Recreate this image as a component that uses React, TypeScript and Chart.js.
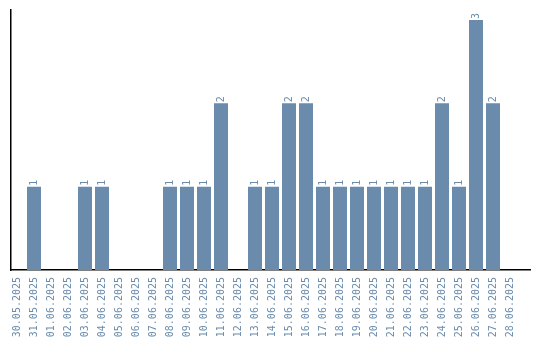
import React, { useEffect, useRef } from "react";
import { Chart, registerables } from "chart.js";

Chart.register(...registerables);

const categories: string[] = [
  "30.05.2025", "31.05.2025", "01.06.2025", "02.06.2025", "03.06.2025",
  "04.06.2025", "05.06.2025", "06.06.2025", "07.06.2025", "08.06.2025",
  "09.06.2025", "10.06.2025", "11.06.2025", "12.06.2025", "13.06.2025",
  "14.06.2025", "15.06.2025", "16.06.2025", "17.06.2025", "18.06.2025",
  "19.06.2025", "20.06.2025", "21.06.2025", "22.06.2025", "23.06.2025",
  "24.06.2025", "25.06.2025", "26.06.2025", "27.06.2025", "28.06.2025",
];

const counts: number[] = [
  0, 1, 0, 0, 1,
  1, 0, 0, 0, 1,
  1, 1, 2, 0, 1,
  1, 2, 2, 1, 1,
  1, 1, 1, 1, 1,
  2, 1, 3, 2, 0,
];

const Y_MAX = 3.12;
const BAR_COLOR = "#6a8bab";
const TEXT_COLOR = "#6a8bab";
const FONT_FAMILY = "'DejaVu Sans Mono', monospace";

const valueLabels = {
  id: "valueLabels",
  afterDatasetsDraw(chart: any) {
    const ctx = chart.ctx;
    const meta = chart.getDatasetMeta(0);
    ctx.save();
    ctx.fillStyle = TEXT_COLOR;
    ctx.font = `10px ${FONT_FAMILY}`;
    ctx.textAlign = "left";
    ctx.textBaseline = "middle";
    meta.data.forEach((el: any, i: number) => {
      const v = counts[i];
      if (!v) return;
      ctx.save();
      ctx.translate(el.x, el.y - 1);
      ctx.rotate(-Math.PI / 2);
      ctx.fillText(String(v), 0, 0);
      ctx.restore();
    });
    ctx.restore();
  },
};

export default function App() {
  const ref = useRef<HTMLCanvasElement | null>(null);

  useEffect(() => {
    if (!ref.current) return;
    const xMin = -6 / 17;
    const xMax = xMin + 519 / 17;
    const chart = new Chart(ref.current, {
      type: "bar",
      data: {
        datasets: [
          {
            data: counts.map((v, i) => ({ x: i, y: v })),
            backgroundColor: BAR_COLOR,
            borderWidth: 0,
            barPercentage: 0.8235,
            categoryPercentage: 1,
          },
        ],
      },
      options: {
        animation: false,
        responsive: false,
        devicePixelRatio: 1,
        layout: { padding: { left: 11, top: 10, right: 10, bottom: 3 } },
        plugins: {
          legend: { display: false },
          tooltip: { enabled: false },
        },
        scales: {
          x: {
            type: "linear",
            offset: false,
            min: xMin,
            max: xMax,
            grid: { display: false, drawTicks: false, offset: false },
            border: { display: true, color: "#000", width: 1.5 },
            afterBuildTicks: (scale: any) => {
              scale.ticks = categories.map((_, i) => ({ value: i }));
            },
            afterFit: (scale: any) => {
              scale.paddingLeft = 0;
              scale.paddingRight = 0;
              scale.height = 67;
            },
            ticks: {
              autoSkip: false,
              maxRotation: 90,
              minRotation: 90,
              padding: 7,
              color: TEXT_COLOR,
              font: { family: FONT_FAMILY, size: 10 },
              callback: (v: any) => categories[Math.round(Number(v))] ?? "",
            },
          },
          y: {
            min: 0,
            max: Y_MAX,
            grid: { display: false, drawTicks: false },
            border: { display: true, color: "#000", width: 1.5 },
            ticks: { display: false },
            afterFit: (scale: any) => {
              scale.width = 0;
              scale.paddingTop = 0;
              scale.paddingBottom = 0;
            },
          },
        },
      },
      plugins: [valueLabels],
    } as any);
    return () => chart.destroy();
  }, []);

  return (
    <div style={{ position: "absolute", left: 0, top: 0, width: 540, height: 340, background: "#fff" }}>
      <canvas ref={ref} width={540} height={340} style={{ width: 540, height: 340 }} />
    </div>
  );
}
